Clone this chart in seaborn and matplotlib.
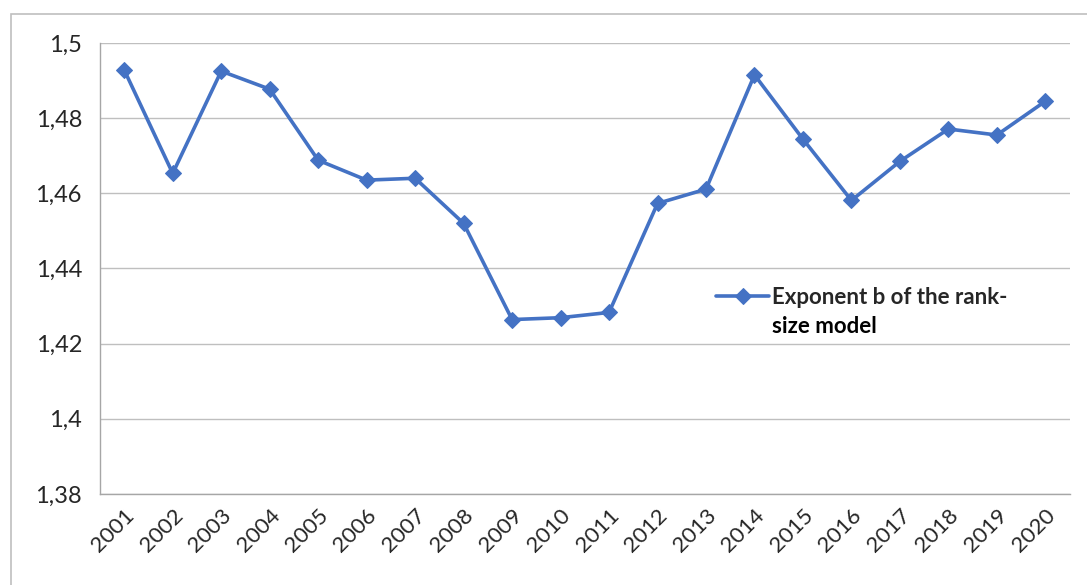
import matplotlib.pyplot as plt
import matplotlib.patches as mpatches
import seaborn as sns
import pandas as pd
import numpy as np

years = [str(y) for y in range(2001, 2021)]
exponent_b = [1.4928, 1.4653, 1.4925, 1.4877, 1.4688, 1.4635, 1.4640, 1.4520,
              1.4264, 1.4269, 1.4283, 1.4573, 1.4611, 1.4915, 1.4744, 1.4581,
              1.4685, 1.4771, 1.4755, 1.4845]
series_first = "Exponent b of the rank-"
series_second = "size model"

sns.set_theme(style="white")
plt.rcParams['font.family'] = ['Lato', 'DejaVu Sans']

df = pd.DataFrame({'pos': np.arange(len(years)), 'b': exponent_b})

fig = plt.figure(figsize=(10.87, 5.85), dpi=100)
ax = fig.add_axes([0.092, 0.1556, 0.892, 0.771])

sns.lineplot(data=df, x='pos', y='b', ax=ax, color='#4472C4', linewidth=2.6,
             marker='D', markersize=8.5, markeredgecolor='#4472C4', label=series_first)

ax.set_xlim(-0.5, len(years) - 0.5)
ax.set_ylim(1.38, 1.5)
ax.set_yticks([1.38, 1.40, 1.42, 1.44, 1.46, 1.48, 1.50])
ax.set_yticklabels(['1,38', '1,4', '1,42', '1,44', '1,46', '1,48', '1,5'], fontsize=17)
ax.set_xticks(np.arange(len(years)))
ax.set_xticklabels(years, rotation=45, fontsize=16, rotation_mode='anchor')
for lbl in ax.get_xticklabels():
    lbl.set_ha('right')
ax.set_xticks(np.arange(len(years) + 1) - 0.5, minor=True)
ax.tick_params(axis='x', which='major', length=0, pad=8)
ax.tick_params(axis='x', which='minor', length=7, color='#A6A6A6', width=1)
ax.tick_params(axis='y', length=7, color='#A6A6A6', width=1, pad=6)
ax.set_xlabel('')
ax.set_ylabel('')

ax.grid(axis='y', color='#BFBFBF', linewidth=1)
ax.set_axisbelow(True)
for s in ['top', 'right']:
    ax.spines[s].set_visible(False)
for s in ['left', 'bottom']:
    ax.spines[s].set_color('#A6A6A6')
    ax.spines[s].set_linewidth(1)

leg = ax.legend(loc='center left', bbox_to_anchor=(0.626, 0.436), frameon=False,
                prop={'weight': 'bold', 'size': 16}, handlelength=2.4,
                handletextpad=0.12, borderaxespad=0)

fig.canvas.draw()
bb = leg.get_texts()[0].get_window_extent()
fig.text(bb.x0 / fig.bbox.width, (bb.y0 - 8) / fig.bbox.height, series_second,
         fontsize=16, fontweight='bold', ha='left', va='top', color='black')

border = mpatches.Rectangle((11 / 1087, -0.05), 1.1, (585 - 14) / 585 + 0.05,
                            transform=fig.transFigure, fill=False,
                            edgecolor='#BFBFBF', linewidth=1.2)
fig.patches.append(border)

fig.savefig('out.png', dpi=100)
